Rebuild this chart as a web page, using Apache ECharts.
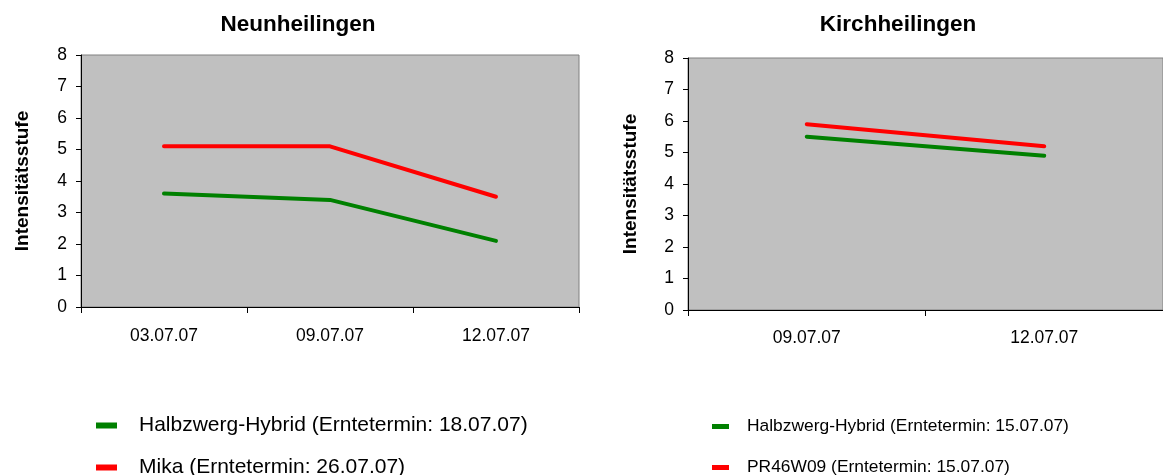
<!DOCTYPE html>
<html>
<head>
<meta charset="utf-8">
<script src="https://cdn.jsdelivr.net/npm/echarts@6/dist/echarts.min.js"></script>
<style>
html,body{margin:0;padding:0;background:#fff;}
#c{width:1163px;height:475px;}
</style>
</head>
<body>
<div id="c"></div>
<script>
// ---- Data ----
const leftTitle = 'Neunheilingen';
const rightTitle = 'Kirchheilingen';
const yName = 'Intensitätsstufe';
const leftDates = ['03.07.07', '09.07.07', '12.07.07'];
const rightDates = ['09.07.07', '12.07.07'];
const leftGreenName = 'Halbzwerg-Hybrid (Erntetermin: 18.07.07)';
const leftRedName = 'Mika (Erntetermin: 26.07.07)';
const rightGreenName = 'Halbzwerg-Hybrid (Erntetermin: 15.07.07)';
const rightRedName = 'PR46W09 (Erntetermin: 15.07.07)';
const leftGreen = [3.6, 3.4, 2.1];
const leftRed = [5.1, 5.1, 3.5];
const rightGreen = [5.5, 4.9];
const rightRed = [5.9, 5.2];
const yTicks = [0, 8, 1]; // min, max, interval

const FONT = '"Liberation Sans", Arial, sans-serif';
const GREEN = '#008000';
const RED = '#ff0000';

function xAxis(idx, data, margin) {
  return {
    type: 'category', gridIndex: idx, data: data, boundaryGap: true,
    axisLine: { lineStyle: { color: '#000', width: 1 } },
    axisTick: { show: true, length: 6, lineStyle: { color: '#000' } },
    axisLabel: { color: '#000', fontSize: 17.5, fontFamily: FONT, margin: margin },
    splitLine: { show: false }
  };
}
function yAxis(idx, gap) {
  return {
    type: 'value', gridIndex: idx, min: yTicks[0], max: yTicks[1], interval: yTicks[2],
    name: yName, nameLocation: 'middle', nameRotate: 90, nameGap: gap,
    nameTextStyle: { color: '#000', fontSize: 19, fontWeight: 'bold', fontFamily: FONT },
    axisLine: { show: true, lineStyle: { color: '#000', width: 1 } },
    axisTick: { show: true, length: 5, lineStyle: { color: '#000' } },
    axisLabel: { color: '#000', fontSize: 17.5, fontFamily: FONT, margin: 14 },
    splitLine: { show: false }
  };
}
function line(name, data, color, idx) {
  return {
    name: name, type: 'line', data: data, xAxisIndex: idx, yAxisIndex: idx,
    showSymbol: false, symbol: 'none', color: color,
    lineStyle: { color: color, width: 4, cap: 'round', join: 'round' },
    itemStyle: { color: color }, animation: false
  };
}
function legend(name, left, top, w, h, fs, pad) {
  return {
    data: [name], orient: 'horizontal', left: left, top: top, icon: 'rect',
    itemWidth: w, itemHeight: h, padding: 0, selectedMode: false,
    textStyle: { color: '#000', fontSize: fs, fontFamily: FONT, padding: pad }
  };
}

const chart = echarts.init(document.getElementById('c'), null, { renderer: 'canvas' });
chart.setOption({
  animation: false,
  graphic: [
    { type: 'text', x: 298, y: 25, style: { text: leftTitle, font: 'bold 22.5px ' + FONT, fill: '#000', textAlign: 'center', textVerticalAlign: 'middle' } },
    { type: 'text', x: 898, y: 25, style: { text: rightTitle, font: 'bold 22.5px ' + FONT, fill: '#000', textAlign: 'center', textVerticalAlign: 'middle' } }
  ],
  grid: [
    { left: 81, right: 584, top: 55, bottom: 168, show: true, backgroundColor: '#c0c0c0', borderColor: '#808080', borderWidth: 1 },
    { left: 688, right: -9, top: 58, bottom: 165, show: true, backgroundColor: '#c0c0c0', borderColor: '#808080', borderWidth: 1 }
  ],
  xAxis: [xAxis(0, leftDates, 20), xAxis(1, rightDates, 19)],
  yAxis: [yAxis(0, 49), yAxis(1, 48)],
  legend: [
    legend(leftGreenName, 96, 415, 21, 6, 21, [0, 0, 0, 17]),
    legend(leftRedName, 96, 457, 21, 6, 21, [0, 0, 0, 17]),
    legend(rightGreenName, 712, 418, 17, 5, 17.4, [0, 0, 0, 13]),
    legend(rightRedName, 712, 459, 17, 5, 17.4, [0, 0, 0, 13])
  ],
  series: [
    line(leftGreenName, leftGreen, GREEN, 0),
    line(leftRedName, leftRed, RED, 0),
    line(rightGreenName, rightGreen, GREEN, 1),
    line(rightRedName, rightRed, RED, 1)
  ]
});
</script>
</body>
</html>
